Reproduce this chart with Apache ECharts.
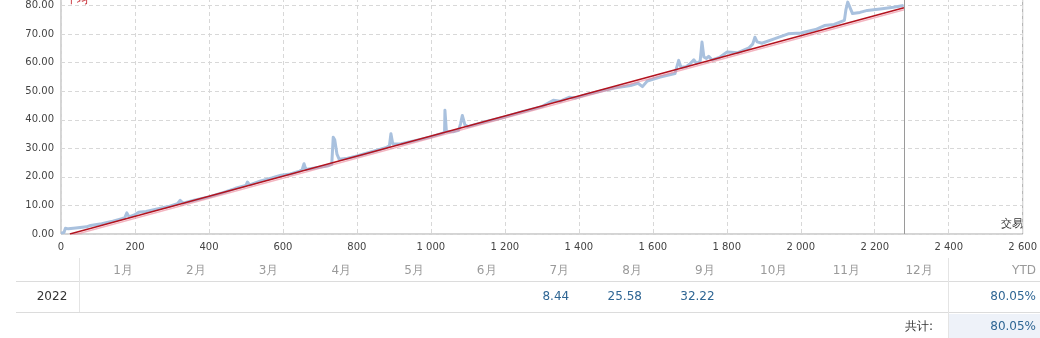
<!DOCTYPE html>
<html><head><meta charset="utf-8">
<script src="https://cdn.jsdelivr.net/npm/echarts@6/dist/echarts.min.js"></script>
<style>html,body{margin:0;padding:0;background:#fff;overflow:hidden;width:1040px;height:338px;position:relative}#c{position:absolute;left:0;top:-29px;width:1040px;height:367px}</style>
</head><body><div id="c"></div>
<script>
// Growth curve (trade number, %)
const growthPoints = [[0,0.3],[8,0.5],[12,2.0],[20,1.8],[40,2.1],[69,2.5],[80,3.0],[110,3.6],[140,4.5],[165,5.4],[172,5.6],[178,7.4],[184,6.0],[200,6.8],[210,7.6],[230,7.9],[260,8.8],[290,9.6],[315,10.6],[322,11.8],[330,10.8],[360,11.8],[400,13.0],[440,14.6],[472,16.0],[500,17.0],[504,18.2],[510,17.2],[540,18.6],[570,19.6],[595,20.6],[620,21.0],[645,22.0],[652,22.5],[657,24.6],[662,22.6],[690,23.2],[720,23.8],[732,24.4],[736,33.9],[740,33.0],[746,28.0],[752,26.2],[770,26.4],[800,27.3],[840,28.8],[880,30.3],[888,31.0],[892,35.1],[897,31.5],[920,31.6],[960,32.8],[1000,34.0],[1030,35.2],[1037,35.6],[1038,43.3],[1041,43.0],[1042,35.8],[1060,35.8],[1075,36.3],[1080,38.5],[1085,41.5],[1092,38.2],[1100,37.6],[1150,39.4],[1200,41.0],[1250,42.9],[1300,44.6],[1331,46.8],[1350,46.5],[1375,47.9],[1390,47.6],[1420,48.8],[1460,50.1],[1500,51.2],[1540,52.0],[1560,52.8],[1572,51.6],[1585,53.6],[1620,55.0],[1660,56.2],[1665,58.5],[1670,60.8],[1676,58.4],[1690,58.6],[1700,59.5],[1711,61.0],[1718,59.8],[1728,60.5],[1733,67.2],[1738,62.0],[1745,61.5],[1751,62.2],[1760,61.0],[1780,61.8],[1801,63.7],[1830,63.5],[1860,65.2],[1870,66.5],[1876,68.9],[1882,67.3],[1895,66.8],[1930,68.4],[1966,70.1],[2000,70.4],[2040,71.6],[2064,73.0],[2090,73.4],[2118,74.8],[2122,78.5],[2127,81.2],[2132,80.5],[2140,77.2],[2160,77.6],[2180,78.3],[2220,78.9],[2250,79.4],[2278,80.05]];
// Average (trend) line end points
const averagePoints = [[24,0],[2279,79.2]];
const lastTrade = 2279;

// Table
const months = ['1月','2月','3月','4月','5月','6月','7月','8月','9月','10月','11月','12月'];
const yearLabel = '2022';
const monthValues = ['','','','','','','8.44','25.58','32.22','','',''];
const ytdValue = '80.05%';
const totalLabel = '共计:';
const totalValue = '80.05%';

const FONT = '"DejaVu Sans", Verdana, sans-serif';
const OY = 29; // canvas is shifted up by this many pixels
const chart = echarts.init(document.getElementById('c'), null, {renderer:'canvas'});

const g = [];
const T = (text, x, y, fill, align, size) => ({type:'text', style:{text, x, y:y+OY, fill, font:(size||12)+'px '+FONT, align, textAlign:align, verticalAlign:'middle', textVerticalAlign:'middle'}});
// chart decorations
g.push(T('平均', 66, 0, '#c0141c', 'left', 11));
g.push(T('交易', 1023, 224, '#333', 'right', 11));
// table
const colRight = i => 133 + 72.7*i;
months.forEach((m,i)=>{
  g.push(T(m, colRight(i), 271, '#9a9a9a', 'right'));
  if (monthValues[i]) g.push(T(monthValues[i], colRight(i), 297, '#2f6694', 'right'));
});
g.push(T('YTD', 1036, 271, '#9a9a9a', 'right'));
g.push(T(yearLabel, 52, 297, '#333', 'center'));
g.push(T(ytdValue, 1036, 297, '#2f6694', 'right'));
g.push({type:'rect', shape:{x:949, y:314+OY, width:91, height:24}, style:{fill:'#eef2f9'}, z:-1});
g.push(T(totalLabel, 933, 327, '#333', 'right'));
g.push(T(totalValue, 1036, 327, '#2f6694', 'right'));
const L = (x1,y1,x2,y2,c) => ({type:'line', shape:{x1, y1:y1+OY, x2, y2:y2+OY}, style:{stroke:c, lineWidth:1}});
g.push(L(16, 281.5, 1040, 281.5, '#dcdcdc'));
g.push(L(16, 312.5, 1040, 312.5, '#dcdcdc'));
g.push(L(79.5, 258, 79.5, 312, '#e4e4e4'));
g.push(L(948.5, 258, 948.5, 338, '#e4e4e4'));

chart.setOption({
  animation:false,
  textStyle:{fontFamily:FONT},
  grid:{left:61, right:12, top:6, bottom:104, show:true, borderColor:'#a8a8a8', borderWidth:1, backgroundColor:'transparent'},
  xAxis:{type:'value', min:0, max:2600, interval:200,
    axisLine:{show:false}, axisTick:{show:false},
    axisLabel:{color:'#444', fontSize:10, margin:8, fontFamily:FONT,
      formatter:v=> v>=1000 ? Math.floor(v/1000)+' '+String(v%1000).padStart(3,'0') : String(v)},
    splitLine:{show:true, lineStyle:{color:'#d8d8d8', type:[4,3]}}},
  yAxis:{type:'value', min:0, max:90, interval:10,
    axisLine:{show:false}, axisTick:{show:false},
    axisLabel:{color:'#444', fontSize:10, margin:7, fontFamily:FONT, formatter:v=>v.toFixed(2)},
    splitLine:{show:true, lineStyle:{color:'#d8d8d8', type:[4,3]}}},
  series:[
    {type:'line', data:growthPoints, showSymbol:false, symbol:'none',
      lineStyle:{color:'#a9c1de', width:3, join:'round'}, z:2,
      markLine:{silent:true, symbol:'none', label:{show:false},
        lineStyle:{color:'#9a9a9a', width:1, type:'solid'}, data:[{xAxis:lastTrade}]}},
    {type:'line', data:averagePoints, showSymbol:false, symbol:'none',
      lineStyle:{color:'#b3121e', width:1.5, shadowColor:'rgba(235,130,150,0.6)', shadowBlur:0, shadowOffsetY:2}, z:3}
  ],
  graphic:g
});
</script></body></html>
